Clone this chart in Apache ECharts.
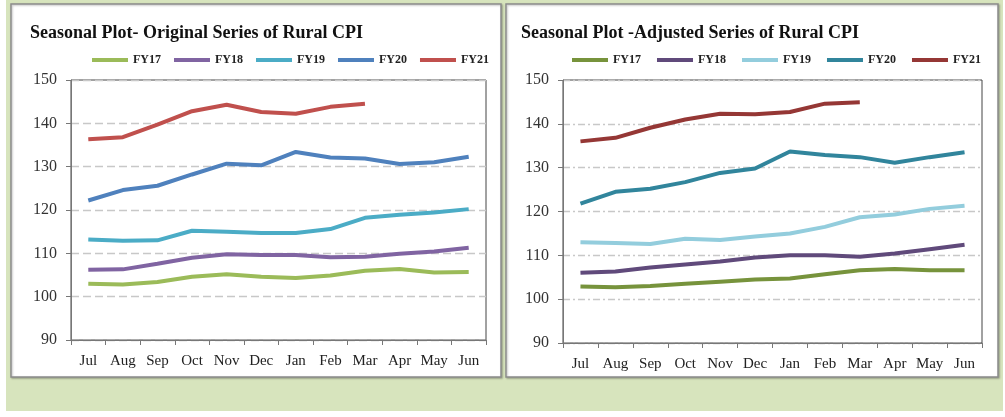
<!DOCTYPE html>
<html>
<head>
<meta charset="utf-8">
<script src="https://cdn.jsdelivr.net/npm/echarts@6/dist/echarts.min.js"></script>
<style>
html, body { margin: 0; padding: 0; background: #fff; }
#main { width: 1005px; height: 417px; }
</style>
</head>
<body>
<div id="main"></div>
<script>
var chart = echarts.init(document.getElementById('main'));

var months = ['Jul', 'Aug', 'Sep', 'Oct', 'Nov', 'Dec', 'Jan', 'Feb', 'Mar', 'Apr', 'May', 'Jun'];
var years = ['FY17', 'FY18', 'FY19', 'FY20', 'FY21'];

// original series
var origFY17 = [103.0, 102.8, 103.4, 104.6, 105.2, 104.6, 104.3, 104.9, 106.0, 106.4, 105.6, 105.7];
var origFY18 = [106.2, 106.3, 107.6, 109.0, 109.8, 109.6, 109.6, 109.1, 109.2, 109.9, 110.4, 111.3];
var origFY19 = [113.2, 112.9, 113.0, 115.2, 115.0, 114.7, 114.7, 115.6, 118.2, 118.9, 119.4, 120.2];
var origFY20 = [122.2, 124.6, 125.6, 128.2, 130.7, 130.3, 133.4, 132.1, 131.9, 130.6, 131.0, 132.3];
var origFY21 = [136.3, 136.8, 139.7, 142.8, 144.3, 142.6, 142.2, 143.8, 144.5];

// seasonally adjusted series
var adjFY17 = [102.9, 102.7, 103.0, 103.5, 104.0, 104.5, 104.7, 105.7, 106.6, 106.9, 106.6, 106.6];
var adjFY18 = [106.0, 106.3, 107.2, 107.9, 108.6, 109.5, 110.0, 110.0, 109.7, 110.4, 111.4, 112.4];
var adjFY19 = [113.0, 112.8, 112.6, 113.8, 113.5, 114.3, 115.0, 116.5, 118.7, 119.3, 120.6, 121.3];
var adjFY20 = [121.8, 124.5, 125.2, 126.7, 128.8, 129.8, 133.7, 132.9, 132.4, 131.1, 132.4, 133.5];
var adjFY21 = [136.0, 136.8, 139.1, 141.0, 142.3, 142.2, 142.7, 144.6, 144.9];

var origColors = ['#9BBB59', '#8064A2', '#4BACC6', '#4F81BD', '#C0504D'];
var adjColors = ['#77933C', '#604A7B', '#93CDDD', '#31859C', '#953735'];

var serif = 'Liberation Serif';

function makeSeries(list, colors, idx, suffix) {
    return list.map(function (d, i) {
        return {
            name: years[i] + suffix,
            type: 'line',
            xAxisIndex: idx,
            yAxisIndex: idx,
            data: d,
            symbol: 'none',
            color: colors[i],
            lineStyle: { width: 4, color: colors[i] }
        };
    });
}

function xAxisFor(idx) {
    return {
        type: 'category',
        gridIndex: idx,
        data: months,
        boundaryGap: true,
        axisLine: { lineStyle: { color: '#777', width: 1 } },
        axisTick: { show: true, length: 5, lineStyle: { color: '#777' } },
        axisLabel: { interval: 0, color: '#222', fontFamily: serif, fontSize: 15, margin: 14 }
    };
}

function yAxisFor(idx, dash) {
    return {
        type: 'value',
        gridIndex: idx,
        min: 90,
        max: 150,
        interval: 10,
        axisLine: { show: true, lineStyle: { color: '#777', width: 1 } },
        axisTick: { show: true, length: 5, lineStyle: { color: '#777' } },
        axisLabel: { color: '#333', fontFamily: serif, fontSize: 16, margin: 14 },
        splitLine: { show: true, lineStyle: { color: '#c8c8c8', width: 1.3, type: dash } }
    };
}

// right chart legend names carry a trailing space so the two legends stay apart
var series = makeSeries([origFY17, origFY18, origFY19, origFY20, origFY21], origColors, 0, '')
    .concat(makeSeries([adjFY17, adjFY18, adjFY19, adjFY20, adjFY21], adjColors, 1, ' '));

var legendText = { fontFamily: serif, fontWeight: 'bold', fontSize: 12, color: '#222' };

var option = {
    backgroundColor: '#fff',
    animation: false,
    graphic: [
        { type: 'rect', shape: { x: 6, y: 0, width: 997, height: 411 }, style: { fill: '#D7E4BD' }, z: -10 },
        { type: 'rect', shape: { x: 11, y: 4, width: 490, height: 373 }, style: { fill: '#fff', stroke: '#8c8c8c', lineWidth: 1.5, shadowColor: 'rgba(0,0,0,0.25)', shadowBlur: 2, shadowOffsetX: 1, shadowOffsetY: 1 }, z: -9 },
        { type: 'rect', shape: { x: 506, y: 4, width: 492, height: 373 }, style: { fill: '#fff', stroke: '#8c8c8c', lineWidth: 1.5, shadowColor: 'rgba(0,0,0,0.25)', shadowBlur: 2, shadowOffsetX: 1, shadowOffsetY: 1 }, z: -9 }
    ],
    title: [
        { text: 'Seasonal Plot- Original Series of Rural CPI', left: 25, top: 19,
          textStyle: { fontFamily: serif, fontWeight: 'bold', fontSize: 18, color: '#111' } },
        { text: 'Seasonal Plot -Adjusted Series of Rural CPI', left: 516, top: 19,
          textStyle: { fontFamily: serif, fontWeight: 'bold', fontSize: 18, color: '#111' } }
    ],
    legend: [
        { data: years, left: 87, top: 49, width: 420, icon: 'rect', itemWidth: 36, itemHeight: 4, itemGap: 13, textStyle: legendText },
        { data: years.map(function (y) { return y + ' '; }), left: 567, top: 49, width: 430, icon: 'rect', itemWidth: 36, itemHeight: 4, itemGap: 13, textStyle: legendText }
    ],
    grid: [
        { left: 71, right: 519, top: 80, bottom: 77, show: true, borderColor: '#444', borderWidth: 1, backgroundColor: 'transparent' },
        { left: 563, right: 23, top: 80, bottom: 74, show: true, borderColor: '#444', borderWidth: 1, backgroundColor: 'transparent' }
    ],
    xAxis: [xAxisFor(0), xAxisFor(1)],
    yAxis: [yAxisFor(0, [8, 4]), yAxisFor(1, [7, 3, 2, 3])],
    series: series
};

chart.setOption(option);
</script>
</body>
</html>
